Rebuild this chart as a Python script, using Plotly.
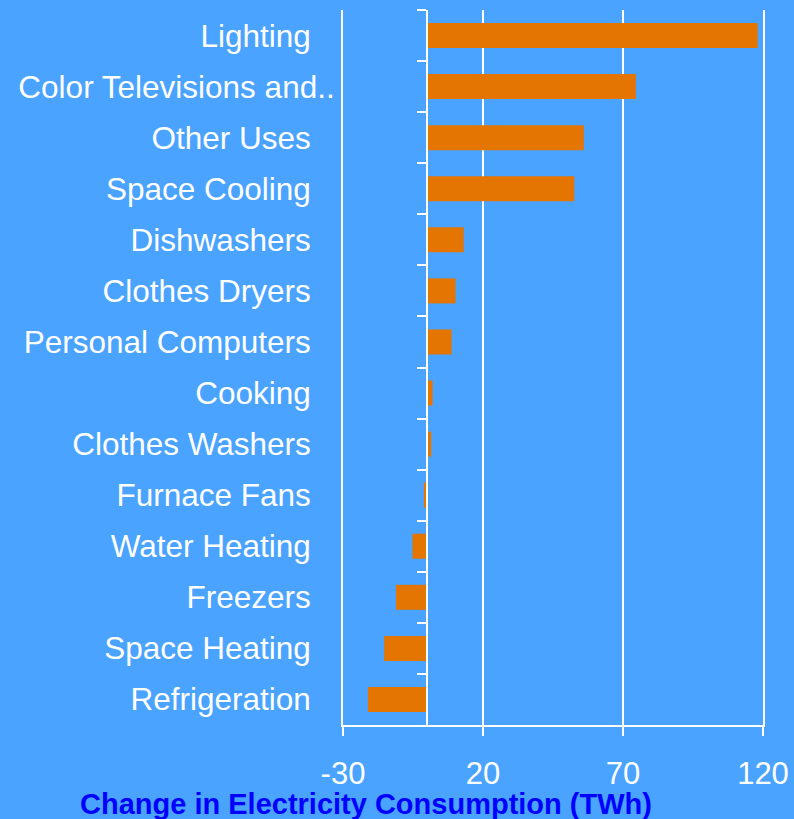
import plotly.graph_objects as go

# End uses, listed top to bottom
end_uses = [
    "Lighting",
    "Color Televisions and..",
    "Other Uses",
    "Space Cooling",
    "Dishwashers",
    "Clothes Dryers",
    "Personal Computers",
    "Cooking",
    "Clothes Washers",
    "Furnace Fans",
    "Water Heating",
    "Freezers",
    "Space Heating",
    "Refrigeration",
]
# Change in electricity consumption (TWh)
change_twh = [118.1, 74.6, 56.0, 52.6, 13.1, 10.2, 8.8, 2.0, 1.5, -1.1, -5.2, -11.1, -15.3, -21.1]

x_ticks = [-30, 20, 70, 120]
x_range = [-30, 120]

BG = "#49A3FF"
BAR = "#E47500"
WHITE = "#FFFFFF"
FONT = "Liberation Sans, Arial, sans-serif"

# Short labels carry a trailing gap; the truncated one runs closer to the axis
label_text = [u if u.endswith("..") else u + "\u2007\u2009" for u in end_uses]

fig = go.Figure()

fig.add_trace(go.Bar(
    x=change_twh,
    y=end_uses,
    orientation="h",
    marker=dict(color=BAR, line=dict(width=0)),
    width=0.49,
    hoverinfo="x+y",
))

# Invisible trace that carries the category axis drawn along x = 0
fig.add_trace(go.Scatter(
    x=[0] * len(end_uses),
    y=end_uses,
    yaxis="y2",
    mode="markers",
    marker=dict(opacity=0),
    hoverinfo="skip",
    showlegend=False,
))

cat_range = [len(end_uses) - 0.5, -0.5]
zero_pos = (0 - x_range[0]) / (x_range[1] - x_range[0])

fig.update_layout(
    width=794,
    height=819,
    margin=dict(l=343, r=31, t=10, b=94),
    paper_bgcolor=BG,
    plot_bgcolor=BG,
    showlegend=False,
    font=dict(family=FONT, color=WHITE, size=31),
    xaxis=dict(
        range=x_range,
        tickvals=x_ticks,
        ticktext=[str(v) for v in x_ticks],
        showgrid=True,
        gridcolor=WHITE,
        gridwidth=2,
        zeroline=False,
        showline=True,
        linecolor=WHITE,
        linewidth=2,
        ticks="outside",
        ticklen=9,
        tickwidth=2,
        tickcolor=WHITE,
        tickfont=dict(size=31, color=WHITE),
        ticklabelstandoff=11,
        automargin=False,
        fixedrange=True,
    ),
    yaxis=dict(
        categoryorder="array",
        categoryarray=end_uses,
        tickvals=end_uses,
        ticktext=label_text,
        range=cat_range,
        showgrid=False,
        zeroline=False,
        # frame lines at x = -30 and x = 120, matching the grid lines
        showline=True,
        mirror=True,
        linecolor=WHITE,
        linewidth=2,
        ticks="",
        tickfont=dict(size=31.5, color=WHITE),
        ticklabelstandoff=0,
        automargin=False,
        fixedrange=True,
    ),
    yaxis2=dict(
        overlaying="y",
        anchor="free",
        position=zero_pos,
        side="left",
        categoryorder="array",
        categoryarray=end_uses,
        range=cat_range,
        showgrid=False,
        zeroline=False,
        showline=True,
        linecolor=WHITE,
        linewidth=2,
        ticks="outside",
        tickson="boundaries",
        ticklen=9,
        tickwidth=2,
        tickcolor=WHITE,
        showticklabels=False,
        automargin=False,
        fixedrange=True,
    ),
    title=dict(
        text="<b>Change in Electricity Consumption (TWh)</b>",
        font=dict(family=FONT, size=29, color="#0000FF"),
        xref="container",
        yref="container",
        x=366 / 794,
        xanchor="center",
        y=(819 - 804) / 819,
        yanchor="middle",
    ),
)

fig.write_html("out.html")
